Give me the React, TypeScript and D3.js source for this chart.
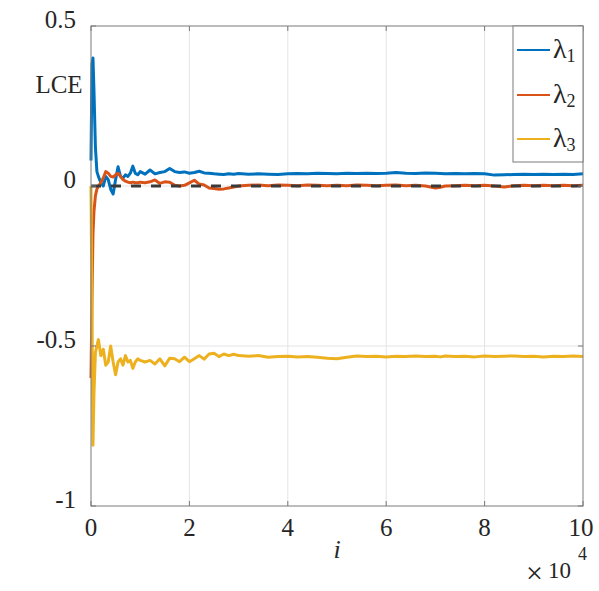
import React from "react";
import * as d3 from "d3";

const xs = [0, 0.02, 0.04, 0.06, 0.09, 0.12, 0.15, 0.2, 0.25, 0.3, 0.35, 0.4, 0.45, 0.5, 0.55, 0.6, 0.65, 0.7, 0.75, 0.8, 0.85, 0.9, 0.95,
  1.0, 1.1, 1.2, 1.3, 1.4, 1.5, 1.6, 1.7, 1.8, 1.9, 2.0, 2.1, 2.2, 2.3, 2.4, 2.5, 2.6, 2.7, 2.8, 2.9, 3.0,
  3.2, 3.4, 3.6, 3.8, 4.0, 4.2, 4.4, 4.6, 4.8, 5.0, 5.2, 5.4, 5.6, 5.8, 6.0, 6.2, 6.4, 6.6, 6.8, 7.0, 7.1,
  7.2, 7.4, 7.6, 7.8, 8.0, 8.2, 8.4, 8.6, 8.8, 9.0, 9.2, 9.4, 9.6, 9.8, 10.0];

const lambda1 = [0.08, 0.38, 0.40, 0.30, 0.12, 0.045, 0.03, 0.01, 0.0, 0.03, 0.02, -0.01, -0.025, 0.02, 0.06, 0.03, 0.025, 0.035, 0.03, 0.04, 0.062, 0.04, 0.035,
  0.045, 0.037, 0.05, 0.038, 0.042, 0.045, 0.055, 0.045, 0.042, 0.044, 0.04, 0.042, 0.046, 0.041, 0.04, 0.038, 0.037, 0.036, 0.038, 0.037, 0.039,
  0.037, 0.038, 0.037, 0.036, 0.038, 0.039, 0.038, 0.04, 0.039, 0.038, 0.04, 0.039, 0.04, 0.039, 0.04, 0.042, 0.04, 0.039, 0.041, 0.04, 0.039,
  0.038, 0.039, 0.038, 0.039, 0.038, 0.034, 0.035, 0.036, 0.037, 0.036, 0.037, 0.036, 0.037, 0.036, 0.038];

const lambda2 = [-0.6, -0.35, -0.15, -0.08, -0.03, -0.01, 0.0, 0.01, 0.025, 0.045, 0.04, 0.03, 0.028, 0.035, 0.04, 0.03, 0.02, 0.015, 0.012, 0.01, 0.012, 0.01, 0.01,
  0.012, 0.01, 0.013, 0.019, 0.008, 0.013, 0.012, 0.002, 0.0, 0.002, 0.01, 0.018, 0.006, 0.003, -0.006, -0.008, -0.01, -0.009, -0.006, -0.003, 0.0,
  0.002, 0.003, 0.001, 0.003, 0.002, 0.001, 0.003, 0.002, 0.001, 0.002, 0.001, 0.003, 0.002, 0.001, 0.002, 0.003, 0.001, 0.002, 0.0, -0.006, -0.004,
  0.0, 0.001, 0.002, 0.001, 0.002, 0.0, -0.003, 0.001, 0.002, 0.001, 0.002, 0.001, 0.002, 0.001, 0.002];

const lambda3 = [0.0, -0.4, -0.81, -0.65, -0.52, -0.5, -0.48, -0.53, -0.51, -0.56, -0.55, -0.5, -0.55, -0.59, -0.55, -0.54, -0.56, -0.53, -0.55, -0.545, -0.57, -0.55, -0.54,
  -0.545, -0.55, -0.545, -0.556, -0.54, -0.562, -0.538, -0.54, -0.549, -0.535, -0.549, -0.54, -0.53, -0.541, -0.525, -0.523, -0.533, -0.525, -0.53, -0.526, -0.53,
  -0.532, -0.53, -0.535, -0.533, -0.532, -0.534, -0.533, -0.535, -0.538, -0.54, -0.535, -0.531, -0.533, -0.532, -0.534, -0.532, -0.533, -0.531, -0.533, -0.532, -0.534,
  -0.531, -0.533, -0.532, -0.534, -0.531, -0.533, -0.532, -0.531, -0.533, -0.532, -0.534, -0.532, -0.533, -0.531, -0.533];

const xTicks = [0, 2, 4, 6, 8, 10];
const yTicks = [-1, -0.5, 0, 0.5];
const yTickLabels = ["-1", "-0.5", "0", "0.5"];
const seriesNames = ["1", "2", "3"];
const colors = ["#0072BD", "#D95319", "#EDB120"];

const W = 599, H = 591;
const L = 91, R = 583, T = 26, B = 506;
const FONT = "Liberation Serif";
const TXT = "#262626";

export default function App() {
  const x = d3.scaleLinear().domain([0, 10]).range([L, R]);
  const y = d3.scaleLinear().domain([-1, 0.5]).range([B, T]);
  const line = d3.line<number>().x((_, i) => x(xs[i])).y((d) => y(d));
  const series = [lambda1, lambda2, lambda3];
  const axisCol = "#7a7a7a";
  const gridCol = "#e4e4e4";
  const legendY = [50, 95, 139];

  return (
    <svg width={W} height={H} style={{ position: "absolute", left: 0, top: 0, background: "#fff" }}>
      <rect x={0} y={0} width={W} height={H} fill="#fff" />
      {xTicks.slice(1, -1).map((t) => (
        <line key={"gx" + t} x1={x(t)} x2={x(t)} y1={T} y2={B} stroke={gridCol} strokeWidth={1} />
      ))}
      {yTicks.slice(1, -1).map((t) => (
        <line key={"gy" + t} x1={L} x2={R} y1={y(t)} y2={y(t)} stroke={gridCol} strokeWidth={1} />
      ))}
      {series.map((s, i) => (
        <path key={"s" + i} d={line(s) || ""} fill="none" stroke={colors[i]} strokeWidth={3} strokeLinejoin="round" />
      ))}
      <line x1={x(0)} x2={x(10)} y1={y(0)} y2={y(0)} stroke="#3a3a3a" strokeWidth={3} strokeDasharray="10,10" />
      <rect x={L} y={T} width={R - L} height={B - T} fill="none" stroke={axisCol} strokeWidth={1} />
      {xTicks.map((t) => (
        <g key={"xt" + t}>
          <line x1={x(t)} x2={x(t)} y1={B} y2={B - 5} stroke={axisCol} />
          <line x1={x(t)} x2={x(t)} y1={T} y2={T + 5} stroke={axisCol} />
          <text x={x(t) - (t === 10 ? 2 : 0)} y={536} textAnchor="middle" style={{ fontFamily: FONT }} fontSize={25} fill={TXT}>{t}</text>
        </g>
      ))}
      {yTicks.map((t, i) => (
        <g key={"yt" + t}>
          <line x1={L} x2={L + 5} y1={y(t)} y2={y(t)} stroke={axisCol} />
          <line x1={R} x2={R - 5} y1={y(t)} y2={y(t)} stroke={axisCol} />
          <text x={76} y={y(t) + 2} textAnchor="end" style={{ fontFamily: FONT }} fontSize={25} fill={TXT}>{yTickLabels[i]}</text>
        </g>
      ))}
      <text x={59} y={93} textAnchor="middle" style={{ fontFamily: FONT }} fontSize={25} fill={TXT}>LCE</text>
      <text x={337} y={558} textAnchor="middle" style={{ fontFamily: FONT }} fontSize={26} fontStyle="italic" fill={TXT}>i</text>
      <text x={526} y={583} style={{ fontFamily: FONT }} fontSize={30} fill={TXT}>×</text>
      <text x={548} y={578} style={{ fontFamily: FONT }} fontSize={23} fill={TXT}>10</text>
      <text x={578} y={560} style={{ fontFamily: FONT }} fontSize={18} fill={TXT}>4</text>
      <rect x={513} y={T} width={R - 513} height={162 - T} fill="#fff" stroke={axisCol} strokeWidth={1} />
      {seriesNames.map((n, i) => (
        <g key={"lg" + n}>
          <line x1={517} x2={550} y1={legendY[i]} y2={legendY[i]} stroke={colors[i]} strokeWidth={2} />
          <text x={553} y={legendY[i] + 8} style={{ fontFamily: FONT }} fontSize={28} fill={TXT}>
            λ<tspan dy={4} fontSize={18}>{n}</tspan>
          </text>
        </g>
      ))}
    </svg>
  );
}
